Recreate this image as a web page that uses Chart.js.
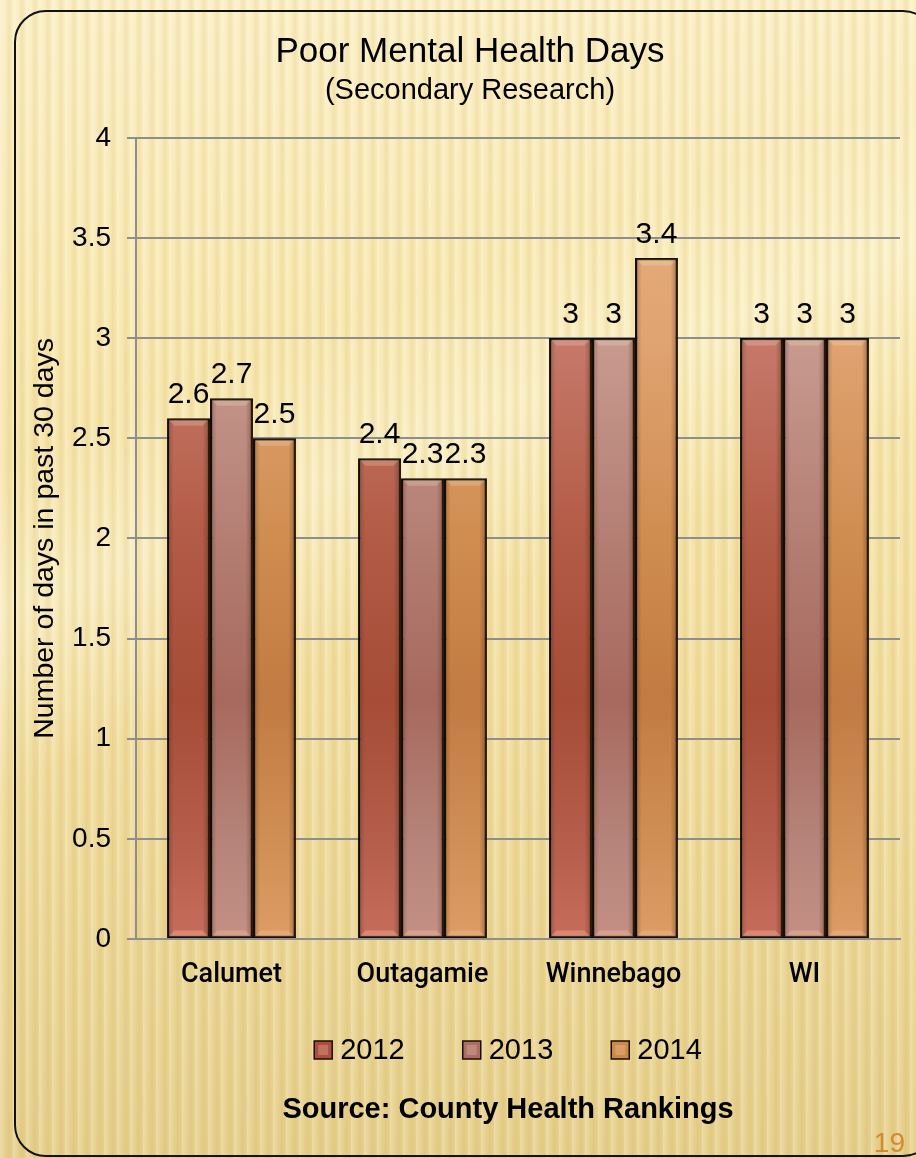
<!DOCTYPE html>
<html>
<head>
<meta charset="utf-8">
<title>Poor Mental Health Days</title>
<script src="https://cdn.jsdelivr.net/npm/chart.js@4/dist/chart.umd.min.js"></script>
<style>
  html, body { margin: 0; padding: 0; }
  body {
    width: 916px; height: 1158px; overflow: hidden; position: relative;
    background:
      repeating-linear-gradient(90deg,
        rgba(255,255,255,0.26) 0px, rgba(255,255,255,0) 5px,
        rgba(185,145,45,0.12) 9px, rgba(255,255,255,0) 13px),
      linear-gradient(158deg, rgba(255,255,255,0) 30%, rgba(255,251,228,0.40) 40%, rgba(255,255,255,0) 52%),
      linear-gradient(180deg, #fbefc5 0%, #f8e8b0 28%, #f2dea0 60%, #e6d08d 100%);
  }
  #frame {
    position: absolute; left: 14px; top: 10px; width: 921px; height: 1147px;
    border: 2.5px solid #111; border-radius: 32px; box-sizing: border-box;
  }
  #page-no {
    position: absolute; right: 11px; top: 1129px;
    font: 28px/28px "Liberation Sans", Arial, sans-serif; color: #d48a2b;
  }
  #chart { position: absolute; left: 0; top: 0; }
</style>
</head>
<body>
<div id="frame"></div>
<canvas id="chart" width="916" height="1158"></canvas>
<div id="page-no">19</div>
<script>
// ---- data ----
const categories = ['Calumet', 'Outagamie', 'Winnebago', 'WI'];
const years = ['2012', '2013', '2014'];
const values2012 = [2.6, 2.4, 3, 3];
const values2013 = [2.7, 2.3, 3, 3];
const values2014 = [2.5, 2.3, 3.4, 3];
const yMin = 0, yMax = 4, yStep = 0.5;
const titleText = 'Poor Mental Health Days';
const subtitleText = '(Secondary Research)';
const yAxisTitle = 'Number of days in past 30 days';
const sourceText = 'Source: County Health Rankings';

// ---- styling ----
const legendColors = ['#ad4f3c', '#ab6e65', '#cc8848'];
// vertical shading of each series, top of plot -> baseline
const shadeStops = [
  [[0, '#d28776'], [0.25, '#c7796a'], [0.5, '#b25b46'], [0.7, '#a64c37'], [0.88, '#b55e4b'], [1, '#c76c5c']],
  [[0, '#d4a99e'], [0.25, '#c89b90'], [0.5, '#b47e73'], [0.7, '#a7695e'], [0.88, '#b6847a'], [1, '#c49085']],
  [[0, '#e8b27f'], [0.25, '#e0a372'], [0.5, '#cf8d50'], [0.7, '#c27b42'], [0.88, '#cf8f55'], [1, '#dc9c63']]
];

function shade(stops, fallback) {
  return (c) => {
    const area = c.chart.chartArea;
    if (!area) return fallback;
    const g = c.chart.ctx.createLinearGradient(0, area.top, 0, area.bottom);
    stops.forEach(([p, col]) => g.addColorStop(p, col));
    return g;
  };
}

const seriesValues = [values2012, values2013, values2014];
const datasets = years.map((yr, i) => ({
  label: yr,
  data: seriesValues[i],
  backgroundColor: shade(shadeStops[i], legendColors[i]),
  legendColor: legendColors[i],
  borderColor: '#120a06',
  borderWidth: 2.5,
  borderSkipped: false,
  barPercentage: 1,
  categoryPercentage: 0.675
}));

const FONT = '"Liberation Sans", Arial, sans-serif';

// soft drop shadow behind the bars
const barShadow = {
  id: 'barShadow',
  beforeDatasetsDraw(chart) {
    const c = chart.ctx;
    c.save();
    c.shadowColor = 'rgba(100,70,15,0.35)';
    c.shadowBlur = 6;
    c.shadowOffsetX = 4;
    c.shadowOffsetY = 0;
  },
  afterDatasetsDraw(chart) { chart.ctx.restore(); }
};

// bevelled edges on each bar
const barBevel = {
  id: 'barBevel',
  afterDatasetsDraw(chart) {
    const c = chart.ctx;
    c.save();
    chart.data.datasets.forEach((ds, i) => {
      chart.getDatasetMeta(i).data.forEach((bar) => {
        const { x, y, base, width } = bar.getProps(['x', 'y', 'base', 'width'], true);
        const l = x - width / 2 + 1.5, r = x + width / 2 - 1.5, t = y + 1.5, b = base - 1.5;
        const g = c.createLinearGradient(l, 0, r, 0);
        g.addColorStop(0, 'rgba(50,15,0,0.22)');
        g.addColorStop(0.13, 'rgba(50,15,0,0)');
        g.addColorStop(0.85, 'rgba(50,15,0,0)');
        g.addColorStop(1, 'rgba(50,15,0,0.28)');
        c.fillStyle = g;
        c.fillRect(l, t, r - l, b - t);
        const d = 6;
        c.fillStyle = 'rgba(255,236,215,0.22)';
        c.beginPath();
        c.moveTo(l, t); c.lineTo(r, t); c.lineTo(r - d, t + d); c.lineTo(l + d, t + d); c.closePath();
        c.fill();
        c.fillStyle = 'rgba(255,190,160,0.35)';
        c.beginPath();
        c.moveTo(l, b); c.lineTo(r, b); c.lineTo(r - d, b - d); c.lineTo(l + d, b - d); c.closePath();
        c.fill();
      });
    });
    c.restore();
  }
};

// value printed above each bar
const valueLabels = {
  id: 'valueLabels',
  afterDatasetsDraw(chart) {
    const c = chart.ctx;
    c.save();
    c.font = '30px ' + FONT;
    c.fillStyle = '#000';
    c.textAlign = 'center';
    c.textBaseline = 'alphabetic';
    chart.data.datasets.forEach((ds, i) => {
      chart.getDatasetMeta(i).data.forEach((bar, j) => {
        c.fillText(String(ds.data[j]), bar.x, bar.y - 15);
      });
    });
    c.restore();
  }
};

// legend row and source line under the plot
const footer = {
  id: 'footer',
  afterDraw(chart) {
    const c = chart.ctx, a = chart.chartArea;
    const cx = (a.left + a.right) / 2 - 10;
    c.save();
    c.font = '29px ' + FONT;
    const box = 18, gap = 8, spacing = 58;
    const items = chart.data.datasets.map((ds) => ({
      text: ds.label, color: ds.legendColor,
      w: box + gap + c.measureText(ds.label).width
    }));
    const total = items.reduce((s, it) => s + it.w, 0) + spacing * (items.length - 1);
    let x = cx - total / 2;
    const y = a.bottom + 111;
    items.forEach((it) => {
      c.fillStyle = it.color;
      c.fillRect(x, y - box / 2, box, box);
      c.fillStyle = 'rgba(255,220,200,0.25)';
      c.fillRect(x + 4, y - box / 2 + 4, box - 8, box - 8);
      c.strokeStyle = '#1a0e08';
      c.lineWidth = 1.5;
      c.strokeRect(x, y - box / 2, box, box);
      c.fillStyle = '#000';
      c.textAlign = 'left';
      c.textBaseline = 'middle';
      c.fillText(it.text, x + box + gap, y + 1);
      x += it.w + spacing;
    });
    c.font = 'bold 29px ' + FONT;
    c.textAlign = 'center';
    c.textBaseline = 'middle';
    c.fillStyle = '#000';
    c.fillText(sourceText, cx, a.bottom + 171);
    c.restore();
  }
};

new Chart(document.getElementById('chart'), {
  type: 'bar',
  data: { labels: categories, datasets },
  plugins: [barShadow, barBevel, valueLabels, footer],
  options: {
    responsive: false,
    animation: false,
    devicePixelRatio: 1,
    layout: { padding: { left: 40, right: 16, top: 0, bottom: 168 } },
    plugins: {
      legend: { display: false },
      tooltip: { enabled: false },
      title: {
        display: true, text: titleText, color: '#000',
        font: { family: FONT, size: 35, weight: 'normal' },
        padding: { top: 31, bottom: 1 }
      },
      subtitle: {
        display: true, text: subtitleText, color: '#000',
        font: { family: FONT, size: 29, weight: 'normal' },
        padding: { top: 0, bottom: 29 }
      }
    },
    scales: {
      x: {
        afterFit(scale) { scale.height = 51; },
        grid: { display: false, drawTicks: false },
        border: { display: true, color: '#8e8e8e', width: 2 },
        ticks: {
          color: '#000', padding: 20,
          font: { family: 'Roboto, "Liberation Sans", Arial, sans-serif', size: 27, weight: 500 }
        }
      },
      y: {
        min: yMin, max: yMax,
        afterFit(scale) { scale.width = 96; },
        grid: { color: '#8e8e8e', lineWidth: 2, tickLength: 9, drawTicks: true },
        border: { display: true, color: '#8e8e8e', width: 2 },
        ticks: {
          stepSize: yStep, color: '#000', padding: 16,
          font: { family: FONT, size: 28 },
          callback: (value) => String(value)
        },
        title: {
          display: true, text: yAxisTitle, color: '#000',
          font: { family: FONT, size: 28.5 },
          padding: { top: -12, bottom: 0 }
        }
      }
    }
  }
});
</script>
</body>
</html>
